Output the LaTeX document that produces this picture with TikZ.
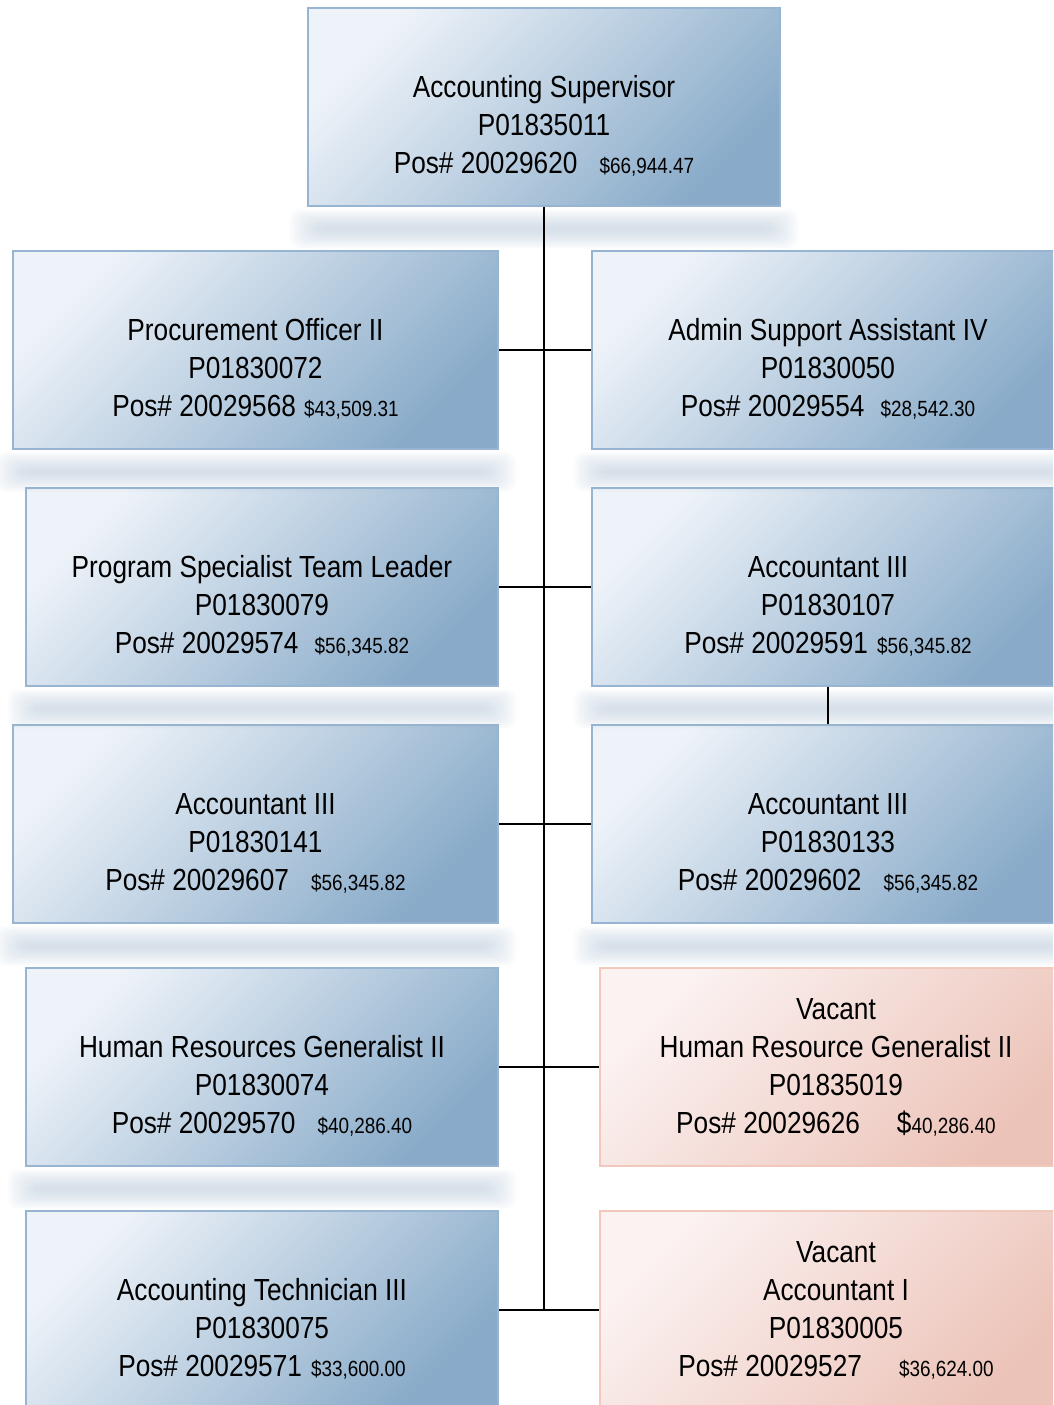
\documentclass[tikz,border=0pt]{standalone}
\usepackage{fontspec}
\setmainfont{Liberation Sans}[FakeStretch=0.86]
\usetikzlibrary{calc}
\definecolor{blueL}{HTML}{EEF3F9}
\definecolor{blueD}{HTML}{89ABC9}
\definecolor{blueB}{HTML}{97B5D2}
\definecolor{pinkL}{HTML}{FBF2F1}
\definecolor{pinkD}{HTML}{ECC3B8}
\definecolor{pinkB}{HTML}{F2C7BC}
\definecolor{shad}{HTML}{9DB4CB}
\newcommand\sal{\fontsize{22}{38}\selectfont}
\newcommand\blank{\vphantom{V}}
\newcommand\shadowof[1]{%
  \foreach \k in {0,...,15}{%
    \fill[shad, opacity=0.03, rounded corners=10pt]
      ($(#1.south west)+(-18+1.9*\k,2+1.15*\k)$) rectangle ($(#1.south east)+(18-1.9*\k,42-1.15*\k)$);
  }%
}
\begin{document}
\begin{tikzpicture}[x=1pt,y=-1pt,
  box/.style={draw=blueB, line width=2pt, top color=blueL, bottom color=blueD, shading angle=45,
    minimum width=472pt, minimum height=198pt, inner sep=0pt, align=center,
    font=\fontsize{30.5}{38}\selectfont},
  wide/.style={minimum width=485pt},
  vacant/.style={draw=pinkB, top color=pinkL, bottom color=pinkD, shading angle=45},
  link/.style={draw=black, line width=2.4pt}]
\useasboundingbox (0,0) rectangle (1053,1405);
\clip (0,0) rectangle (1053,1405);

\node[box] (top) at (544,107) {\blank\\Accounting Supervisor\\P01835011\\Pos\# 20029620\hspace{22pt}{\sal\$66,944.47}};

\node[box,wide] (L1) at (255.5,350) {\blank\\Procurement Officer II\\P01830072\\Pos\# 20029568\hspace{8pt}{\sal\$43,509.31}};
\node[box] (R1) at (828,350) {\blank\\Admin Support Assistant IV\\P01830050\\Pos\# 20029554\hspace{16pt}{\sal\$28,542.30}};

\node[box] (L2) at (262,587) {\blank\\Program Specialist Team Leader\\P01830079\\Pos\# 20029574\hspace{16pt}{\sal\$56,345.82}};
\node[box] (R2) at (828,587) {\blank\\Accountant III\\P01830107\\Pos\# 20029591\hspace{9pt}{\sal\$56,345.82}};

\node[box,wide] (L3) at (255.5,824) {\blank\\Accountant III\\P01830141\\Pos\# 20029607\hspace{22pt}{\sal\$56,345.82}};
\node[box] (R3) at (828,824) {\blank\\Accountant III\\P01830133\\Pos\# 20029602\hspace{22pt}{\sal\$56,345.82}};

\node[box] (L4) at (262,1067) {\blank\\Human Resources Generalist II\\P01830074\\Pos\# 20029570\hspace{22pt}{\sal\$40,286.40}};
\node[box,vacant] (R4) at (836,1067) {Vacant\\Human Resource Generalist II\\P01835019\\Pos\# 20029626\hspace{37pt}\$\sal 40,286.40};

\node[box] (L5) at (262,1310) {\blank\\Accounting Technician III\\P01830075\\Pos\# 20029571\hspace{9pt}{\sal\$33,600.00}};
\node[box,vacant] (R5) at (836,1310) {Vacant\\Accountant I\\P01830005\\Pos\# 20029527\hspace{37pt}{\sal\$36,624.00}};

\shadowof{top}
\shadowof{L1}\shadowof{R1}
\shadowof{L2}\shadowof{R2}
\shadowof{L3}\shadowof{R3}
\shadowof{L4}

\coordinate (trunkend) at (544,1310);
\draw[link] (top.south) -- (trunkend);
\draw[link] (L1.east) -- (R1.west);
\draw[link] (L2.east) -- (R2.west);
\draw[link] (L3.east) -- (R3.west);
\draw[link] (L4.east) -- (R4.west);
\draw[link] (L5.east) -- (R5.west);
\draw[link] (R2.south) -- (R3.north);
\end{tikzpicture}
\end{document}
